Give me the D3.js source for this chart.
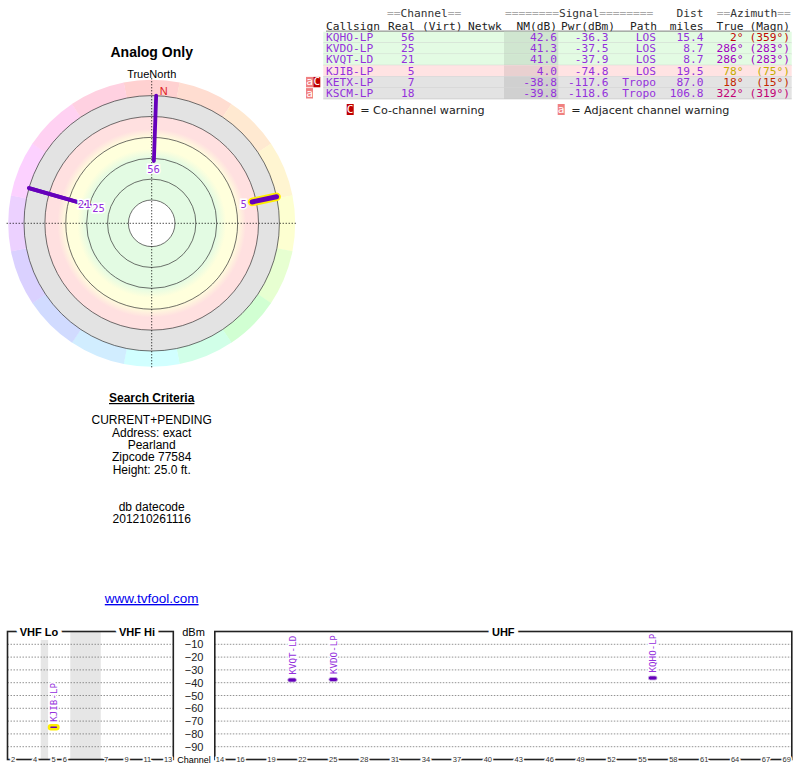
<!DOCTYPE html>
<html>
<head>
<meta charset="utf-8">
<script src="https://cdn.jsdelivr.net/npm/d3@7"></script>
<style>
  body { margin: 0; background: #fff; }
  svg { display: block; }
</style>
</head>
<body>
<div id="chart"></div>
<script>
// stations as listed in the table
const callsigns = ['KQHO-LP', 'KVDO-LP', 'KVQT-LD', 'KJIB-LP', 'KETX-LP', 'KSCM-LP'];
const realChannels = [56, 25, 21, 5, 7, 18];
const noiseMargins = [42.6, 41.3, 41.0, 4.0, -38.8, -39.8];
const powers = [-36.3, -37.5, -37.9, -74.8, -117.6, -118.6];
const paths = ['LOS', 'LOS', 'LOS', 'LOS', 'Tropo', 'Tropo'];
const distances = [15.4, 8.7, 8.7, 19.5, 87.0, 106.8];
const azTrue = [2, 286, 286, 78, 18, 322];
const azMagn = [359, 283, 283, 75, 15, 319];
const warnings = ['', '', '', '', 'aC', 'a'];

// axes / ticks
const nmRings = [80, 60, 40, 20, 0, -20];
const dbmTicks = [-10, -20, -30, -40, -50, -60, -70, -80, -90];
const vhfTicks = [2, 4, 5, 6, 7, 9, 11, 13];
const uhfTicks = [14, 16, 19, 22, 25, 28, 31, 34, 37, 40, 43, 46, 49, 52, 55, 58, 61, 64, 67, 69];

const searchLines = ['CURRENT+PENDING', 'Address: exact', 'Pearland', 'Zipcode 77584', 'Height: 25.0 ft.'];
const dbLines = ['db datecode', '201210261116'];

const stations = callsigns.map((c, i) => ({
  call: c, ch: realChannels[i], nm: noiseMargins[i], pwr: powers[i], path: paths[i],
  dist: distances[i], az: azTrue[i], mag: azMagn[i], warn: warnings[i]
}));

const mono = "'DejaVu Sans Mono', monospace";
const purple = '#9430dc';
const barPurple = '#6600bb';

const svg = d3.select('#chart')
  .append('svg')
  .attr('width', 800)
  .attr('height', 768)
  .style('font-family', "'Liberation Sans', Arial, sans-serif");

const defs = svg.append('defs');

// ---------- polar plot ----------
const cx = 151.7, cy = 223.3;
const r = d3.scaleLinear().domain([80, -20]).range([23.3, 127.7]);
const R = r(-20);
const hue = d3.scaleLinear().domain([0, 90, 180, 270, 360]).range([0, 62, 180, 275, 360]);
const toRad = d => d * Math.PI / 180;
const polar = (deg, rad) => [cx + rad * Math.sin(toRad(deg)), cy - rad * Math.cos(toRad(deg))];

const pg = svg.append('g');

// coloured compass ring
const ringArc = d3.arc().innerRadius(R - 1).outerRadius(143.5);
pg.selectAll('path.sector')
  .data(d3.range(16))
  .enter()
  .append('path')
  .attr('class', 'sector')
  .attr('transform', `translate(${cx},${cy})`)
  .attr('d', k => ringArc({ startAngle: toRad(k * 22.5 - 11.3), endAngle: toRad(k * 22.5 + 11.3) }))
  .attr('fill', k => d3.hsl(hue(k * 22.5), 1, 0.91).formatHex());

// signal bands
const bandStops = [
  [80, '#e3fbe3'], [40, '#e3fbe3'], [31, '#ffffdc'], [21, '#ffffdc'],
  [12, '#ffe0e0'], [0, '#ffe0e0'], [0, '#e3e3e3'], [-20, '#e3e3e3']
];
const grad = defs.append('radialGradient')
  .attr('id', 'bands')
  .attr('gradientUnits', 'userSpaceOnUse')
  .attr('cx', cx).attr('cy', cy).attr('r', R);
grad.selectAll('stop')
  .data(bandStops)
  .enter()
  .append('stop')
  .attr('offset', d => r(d[0]) / R)
  .attr('stop-color', d => d[1]);

pg.append('circle').attr('cx', cx).attr('cy', cy).attr('r', R).attr('fill', 'url(#bands)');
pg.append('circle').attr('cx', cx).attr('cy', cy).attr('r', r(80)).attr('fill', '#fff');

pg.selectAll('circle.ring')
  .data(nmRings)
  .enter()
  .append('circle')
  .attr('class', 'ring')
  .attr('cx', cx).attr('cy', cy)
  .attr('r', d => r(d))
  .attr('fill', 'none')
  .attr('stroke', '#333')
  .attr('stroke-width', 0.7);

// crosshair
pg.append('line')
  .attr('x1', cx - 145).attr('x2', cx + 144).attr('y1', cy).attr('y2', cy)
  .attr('stroke', '#000').attr('stroke-dasharray', '1,2');
pg.append('line')
  .attr('x1', cx).attr('x2', cx).attr('y1', cy - 145).attr('y2', cy + 144)
  .attr('stroke', '#000').attr('stroke-dasharray', '1,2');

// bars for stations inside the plot
const shown = stations.filter(d => d.nm >= -20 && d.nm <= 80);
shown.forEach(d => {
  const a = polar(d.az, r(d.nm)), b = polar(d.az, R);
  const lo = d.ch <= 6;
  if (lo) {
    pg.append('line')
      .attr('x1', a[0]).attr('y1', a[1]).attr('x2', b[0]).attr('y2', b[1])
      .attr('stroke', '#ffee00').attr('stroke-width', 8.5).attr('stroke-linecap', 'round');
  }
  pg.append('line')
    .attr('x1', a[0]).attr('y1', a[1]).attr('x2', b[0]).attr('y2', b[1])
    .attr('stroke', barPurple).attr('stroke-width', lo ? 5 : 3.8).attr('stroke-linecap', 'round');
});

// channel labels, pushed outward when they collide
const placed = [];
shown.forEach(d => {
  let rr = r(d.nm) - 8.5;
  let p = polar(d.az, rr);
  while (placed.some(q => Math.hypot(q[0] - p[0], q[1] - p[1]) < 12)) {
    rr += 14.5;
    p = polar(d.az, rr);
  }
  placed.push(p);
  pg.append('text')
    .attr('x', p[0]).attr('y', p[1])
    .attr('dy', '0.36em')
    .attr('text-anchor', 'middle')
    .style('font-family', mono)
    .style('font-size', '10.5px')
    .attr('fill', purple)
    .attr('stroke', '#fff').attr('stroke-width', 3).attr('paint-order', 'stroke')
    .text(d.ch);
});

// magnetic north marker
const decl = (azTrue[0] - azMagn[0] + 360) % 360;
const np = polar(decl, R + 5);
pg.append('text')
  .attr('x', np[0] + 1).attr('y', np[1])
  .attr('dy', '0.36em')
  .style('font-size', '11px')
  .attr('fill', '#dd2222')
  .text('N');

svg.append('text')
  .attr('x', cx).attr('y', 57)
  .attr('text-anchor', 'middle')
  .style('font-size', '14px').style('font-weight', 'bold')
  .text('Analog Only');
svg.append('text')
  .attr('x', cx).attr('y', 78.3)
  .attr('text-anchor', 'middle')
  .style('font-size', '11px')
  .text('TrueNorth');

// ---------- search criteria ----------
svg.append('text')
  .attr('x', cx).attr('y', 402)
  .attr('text-anchor', 'middle')
  .style('font-size', '12px').style('font-weight', 'bold')
  .style('text-decoration', 'underline')
  .text('Search Criteria');
svg.selectAll('text.crit')
  .data(searchLines)
  .enter()
  .append('text')
  .attr('class', 'crit')
  .attr('x', cx).attr('y', (d, i) => 424.3 + i * 12.3)
  .attr('text-anchor', 'middle')
  .style('font-size', '12px')
  .text(d => d);
svg.selectAll('text.db')
  .data(dbLines)
  .enter()
  .append('text')
  .attr('class', 'db')
  .attr('x', cx).attr('y', (d, i) => 510.5 + i * 12)
  .attr('text-anchor', 'middle')
  .style('font-size', '12px')
  .text(d => d);
svg.append('text')
  .attr('x', cx).attr('y', 603)
  .attr('text-anchor', 'middle')
  .style('font-size', '13.5px')
  .style('text-decoration', 'underline')
  .attr('fill', '#0000ee')
  .text('www.tvfool.com');

// ---------- table ----------
const tg = svg.append('g').style('font-family', mono).style('font-size', '11.2px');
const rowTop = 31.7, rowH = 11.2;
const rowFill = nm => nm < 0 ? '#e3e3e3' : nm < 15 ? '#ffe3e3' : nm < 30 ? '#ffffdc' : '#e3fbe3';
const azColor = a => d3.hsl(hue(a), 1, 0.38).formatHex();

function header(x, y, parts, anchor) {
  const t = tg.append('text').attr('x', x).attr('y', y).attr('text-anchor', anchor || 'start');
  parts.forEach(p => t.append('tspan').attr('fill', p[1]).text(p[0]));
}
const eq = '#aaa', hd = '#333';
header(387, 17.3, [['==', eq], ['Channel', hd], ['==', eq]]);
header(505, 17.3, [['========', eq], ['Signal', hd], ['========', eq]]);
header(703.5, 17.3, [['Dist', hd]], 'end');
header(716.7, 17.3, [['==', eq], ['Azimuth', hd], ['==', eq]]);

const heads = [
  ['Callsign', 326, 'start'], ['Real', 415, 'end'], ['(Virt)', 422, 'start'], ['Netwk', 468, 'start'],
  ['NM(dB)', 557, 'end'], ['Pwr(dBm)', 615, 'end'], ['Path', 630, 'start'], ['miles', 703.5, 'end'],
  ['True', 743.5, 'end'], ['(Magn)', 790, 'end']
];
heads.forEach(h => header(h[1], 29.7, [[h[0], '#222']], h[2]));
tg.append('line').attr('x1', 326).attr('x2', 790).attr('y1', 31.2).attr('y2', 31.2)
  .attr('stroke', '#333').attr('stroke-width', 0.8);

const rows = tg.selectAll('g.row')
  .data(stations)
  .enter()
  .append('g')
  .attr('class', 'row')
  .attr('transform', (d, i) => `translate(0,${rowTop + i * rowH})`);

rows.append('rect')
  .attr('x', 323.3).attr('width', 791.7 - 323.3).attr('height', rowH)
  .attr('fill', d => rowFill(d.nm));
rows.append('rect')
  .attr('x', 504).attr('width', 558.3 - 504).attr('height', rowH)
  .attr('fill', d => d3.color(rowFill(d.nm)).darker(0.25));
rows.append('line')
  .attr('x1', 323.3).attr('x2', 791.7).attr('y1', rowH).attr('y2', rowH)
  .attr('stroke', '#c4c4c4').attr('stroke-width', 0.7);

const cols = [
  [d => d.call, 326, 'start', () => purple],
  [d => d.ch, 414.5, 'end', () => purple],
  [d => d.nm.toFixed(1), 557, 'end', () => purple],
  [d => d.pwr.toFixed(1), 608.5, 'end', () => purple],
  [d => d.path, 656, 'end', () => purple],
  [d => d.dist.toFixed(1), 703.5, 'end', () => purple],
  [d => d.az + '°', 743.5, 'end', d => azColor(d.az)],
  [d => '(' + d.mag + '°)', 790, 'end', d => azColor(d.az)]
];
cols.forEach(c => {
  rows.append('text')
    .attr('x', c[1]).attr('y', 9.3)
    .attr('text-anchor', c[2])
    .attr('fill', c[3])
    .text(c[0]);
});

// warning flags
const flagFill = { a: '#f08080', C: '#c00000' };
rows.each(function (d) {
  d.warn.split('').forEach(w => {
    const x = w === 'a' ? 306 : 313.3;
    const g = d3.select(this);
    g.append('rect').attr('x', x).attr('y', 0.4).attr('width', 7).attr('height', rowH - 0.8).attr('fill', flagFill[w]);
    g.append('text').attr('x', x + 3.5).attr('y', 8.8).attr('text-anchor', 'middle').attr('fill', '#fff').text(w);
  });
});

// legend
const lg = svg.append('g').style('font-size', '11.2px');
[['C', 346.7, '= Co-channel warning'], ['a', 557.7, '= Adjacent channel warning']].forEach(l => {
  lg.append('rect').attr('x', l[1]).attr('y', 104).attr('width', 7).attr('height', 11).attr('fill', flagFill[l[0]]);
  lg.append('text').attr('x', l[1] + 3.5).attr('y', 113.3).attr('text-anchor', 'middle')
    .style('font-family', mono).attr('fill', '#fff').text(l[0]);
  lg.append('text').attr('x', l[1] + 13.5).attr('y', 113.5)
    .style('font-family', "'DejaVu Sans', Verdana, sans-serif").attr('fill', '#222').text(l[2]);
});

// ---------- spectrum ----------
const y = d3.scaleLinear().domain([0, -100]).range([631.5, 759.5]);
// VHF axis is by frequency (MHz) with the FM gap squeezed
const xV = d3.scaleLinear().domain([54, 88, 174, 216]).range([7.5, 70.3, 100.8, 173.3]);
const xU = d3.scaleLinear().domain([13.5, 69.5]).range([214.8, 791.8]);
const vhfLow = ch => ch <= 4 ? 54 + (ch - 2) * 6 : ch <= 6 ? 76 + (ch - 5) * 6 : 174 + (ch - 7) * 6;
const chX = ch => ch <= 13 ? xV(vhfLow(ch) + 3) : xU(ch);
const chW = ch => ch <= 13 ? xV(vhfLow(ch) + 6) - xV(vhfLow(ch)) : xU(ch + 0.5) - xU(ch - 0.5);

const sg = svg.append('g');
const yTop = y(0), yBot = y(-100);

// gaps in the VHF band
[[72, 76], [88, 174]].forEach(g => {
  sg.append('rect')
    .attr('x', xV(g[0])).attr('width', xV(g[1]) - xV(g[0]))
    .attr('y', yTop).attr('height', yBot - yTop)
    .attr('fill', '#e6e6e6');
});

// grid
[[xV(54), xV(216)], [xU(13.5), xU(69.5)]].forEach(span => {
  sg.selectAll(null)
    .data(dbmTicks)
    .enter()
    .append('line')
    .attr('x1', span[0]).attr('x2', span[1])
    .attr('y1', d => y(d)).attr('y2', d => y(d))
    .attr('stroke', '#777').attr('stroke-width', 0.8).attr('stroke-dasharray', '1.5,1.5');
});

// frames
[[xV(54), xV(216)], [xU(13.5), xU(69.5)]].forEach(span => {
  sg.append('rect')
    .attr('x', span[0]).attr('y', yTop).attr('width', span[1] - span[0]).attr('height', yBot - yTop)
    .attr('fill', 'none').attr('stroke', '#222').attr('stroke-width', 1.6);
});

// band titles
[['VHF Lo', (xV(54) + xV(88)) / 2], ['VHF Hi', (xV(174) + xV(216)) / 2], ['UHF', (xU(13.5) + xU(69.5)) / 2]]
  .forEach(b => {
    sg.append('text')
      .attr('x', b[1]).attr('y', yTop + 4)
      .attr('text-anchor', 'middle')
      .style('font-size', '11px').style('font-weight', 'bold')
      .attr('stroke', '#fff').attr('stroke-width', 8).attr('paint-order', 'stroke')
      .text(b[0]);
  });

// dBm axis
const yAxis = sg.append('g')
  .attr('transform', 'translate(203.5,0)')
  .call(d3.axisLeft(y).tickValues(dbmTicks).tickSize(0).tickPadding(0));
yAxis.select('.domain').remove();
yAxis.selectAll('text').style('font-size', '11px').style('font-family', "'Liberation Sans', Arial, sans-serif").attr('fill', '#222');
sg.append('text').attr('x', 193.5).attr('y', 636).attr('text-anchor', 'middle').style('font-size', '11px').text('dBm');
sg.append('text').attr('x', 194).attr('y', 762.8).attr('text-anchor', 'middle').style('font-size', '9px').text('Channel');

// channel tick labels on the bottom edge
const tickLabels = vhfTicks.map(c => [c, chX(c)]).concat(uhfTicks.map(c => [c, chX(c)]));
sg.selectAll('text.chtick')
  .data(tickLabels)
  .enter()
  .append('text')
  .attr('class', 'chtick')
  .attr('x', d => d[1]).attr('y', yBot + 2.6)
  .attr('text-anchor', 'middle')
  .style('font-size', '7.5px')
  .attr('fill', '#333')
  .attr('stroke', '#fff').attr('stroke-width', 3).attr('paint-order', 'stroke')
  .text(d => d[0]);

// station markers
const onScale = stations.filter(d => d.pwr >= -100);
onScale.forEach(d => {
  const x = chX(d.ch), yy = y(d.pwr), w = chW(d.ch) * 0.85;
  const lo = d.ch <= 6;
  sg.append('rect')
    .attr('x', x - w / 2).attr('y', yy - 2).attr('width', w).attr('height', 4)
    .attr('rx', 2)
    .attr('fill', barPurple)
    .attr('stroke', lo ? '#ffee00' : '#c8b4e0')
    .attr('stroke-width', lo ? 2.5 : 0.8);
  sg.append('text')
    .attr('transform', `translate(${x + 0.3},${yy - 5.5}) rotate(-90)`)
    .attr('dy', '0.35em')
    .style('font-family', mono)
    .style('font-size', '9.2px')
    .attr('fill', purple)
    .attr('stroke', '#fff').attr('stroke-width', 3).attr('paint-order', 'stroke')
    .text(d.call);
});
</script>
</body>
</html>
